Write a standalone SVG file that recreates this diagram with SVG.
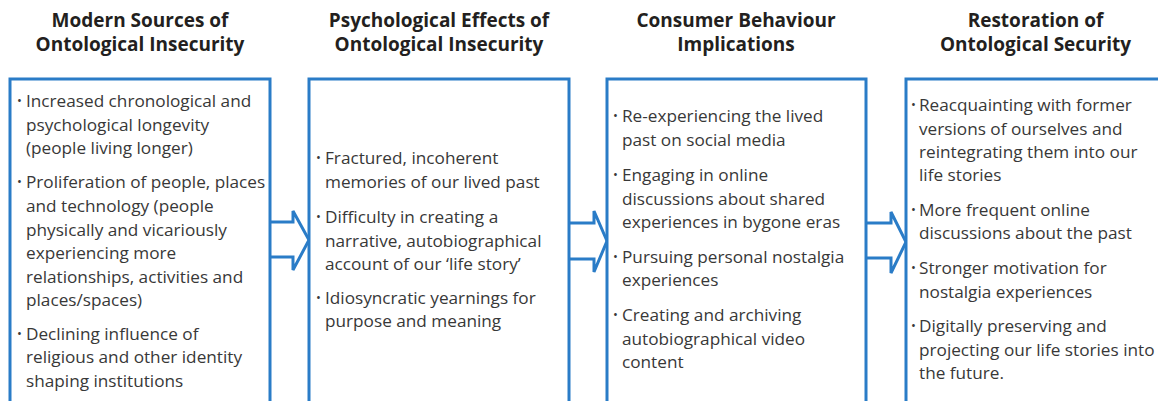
<svg xmlns="http://www.w3.org/2000/svg" width="1158" height="401" viewBox="0 0 1158 401">
  <style>
    .bg { fill: #ffffff; }
    .box { fill: #ffffff; stroke: #2a7cc7; stroke-width: 3; }
    .arrow { fill: #ffffff; stroke: #2a7cc7; stroke-width: 3; stroke-linejoin: miter; }
    .head { font-family: "Open Sans", "Noto Sans", sans-serif; font-weight: 700; font-size: 19px; fill: #231f20; text-anchor: middle; }
    .item { font-family: "Open Sans", "Noto Sans", sans-serif; font-size: 17.2px; fill: #383838; }
    .dot { font-family: "Open Sans", "Noto Sans", sans-serif; font-size: 13px; fill: #383838; }
  </style>
  <rect class="bg" x="0" y="0" width="1158" height="401"/>

  <!-- block arrows between the columns -->
  <g id="connectors">
    <path class="arrow" d="M270,222 H293 V211 L309,240 L293,270 V257 H270"/>
    <path class="arrow" d="M569,223 H594 V211 L607,241 L594,272 V259 H569"/>
    <path class="arrow" d="M866,223 H891 V212 L906,242 L891,273 V258 H866"/>
  </g>

  <!-- column 1 -->
  <g id="sources">
    <text class="head" x="140" y="27">Modern Sources of</text>
    <text class="head" x="140" y="51">Ontological Insecurity</text>
    <rect class="box" x="10" y="79" width="260" height="360"/>
    <text class="dot" x="17" y="105">•</text>
    <text class="item" x="26" y="107">Increased chronological and</text>
    <text class="item" x="26" y="130.5">psychological longevity</text>
    <text class="item" x="26" y="154">(people living longer)</text>
    <text class="dot" x="17" y="186">•</text>
    <text class="item" x="26" y="188">Proliferation of people, places</text>
    <text class="item" x="26" y="212">and technology (people</text>
    <text class="item" x="26" y="236">physically and vicariously</text>
    <text class="item" x="26" y="259">experiencing more</text>
    <text class="item" x="26" y="283">relationships, activities and</text>
    <text class="item" x="26" y="306">places/spaces)</text>
    <text class="dot" x="17" y="338">•</text>
    <text class="item" x="26" y="340">Declining influence of</text>
    <text class="item" x="26" y="363">religious and other identity</text>
    <text class="item" x="26" y="387">shaping institutions</text>
  </g>

  <!-- column 2 -->
  <g id="effects">
    <text class="head" x="439" y="27">Psychological Effects of</text>
    <text class="head" x="439" y="51">Ontological Insecurity</text>
    <rect class="box" x="309" y="79" width="260" height="360"/>
    <text class="dot" x="316" y="162">•</text>
    <text class="item" x="325" y="164">Fractured, incoherent</text>
    <text class="item" x="325" y="188">memories of our lived past</text>
    <text class="dot" x="316" y="221">•</text>
    <text class="item" x="325" y="223">Difficulty in creating a</text>
    <text class="item" x="325" y="246.5">narrative, autobiographical</text>
    <text class="item" x="325" y="270">account of our ‘life story’</text>
    <text class="dot" x="316" y="302">•</text>
    <text class="item" x="325" y="304">Idiosyncratic yearnings for</text>
    <text class="item" x="325" y="327">purpose and meaning</text>
  </g>

  <!-- column 3 -->
  <g id="implications">
    <text class="head" x="736" y="27">Consumer Behaviour</text>
    <text class="head" x="736" y="51">Implications</text>
    <rect class="box" x="607" y="79" width="259" height="360"/>
    <text class="dot" x="613" y="120">•</text>
    <text class="item" x="622" y="122">Re-experiencing the lived</text>
    <text class="item" x="622" y="146">past on social media</text>
    <text class="dot" x="613" y="179">•</text>
    <text class="item" x="622" y="181">Engaging in online</text>
    <text class="item" x="622" y="204.5">discussions about shared</text>
    <text class="item" x="622" y="228">experiences in bygone eras</text>
    <text class="dot" x="613" y="261">•</text>
    <text class="item" x="622" y="263">Pursuing personal nostalgia</text>
    <text class="item" x="622" y="286">experiences</text>
    <text class="dot" x="613" y="319">•</text>
    <text class="item" x="622" y="321">Creating and archiving</text>
    <text class="item" x="622" y="344.5">autobiographical video</text>
    <text class="item" x="622" y="368">content</text>
  </g>

  <!-- column 4 -->
  <g id="restoration">
    <text class="head" x="1035.5" y="27">Restoration of</text>
    <text class="head" x="1035.5" y="51">Ontological Security</text>
    <rect class="box" x="906" y="79" width="259" height="360"/>
    <text class="dot" x="911" y="109">•</text>
    <text class="item" x="919" y="111">Reacquainting with former</text>
    <text class="item" x="919" y="134.5">versions of ourselves and</text>
    <text class="item" x="919" y="158">reintegrating them into our</text>
    <text class="item" x="919" y="181">life stories</text>
    <text class="dot" x="911" y="214">•</text>
    <text class="item" x="919" y="216">More frequent online</text>
    <text class="item" x="919" y="239">discussions about the past</text>
    <text class="dot" x="911" y="272">•</text>
    <text class="item" x="919" y="274">Stronger motivation for</text>
    <text class="item" x="919" y="297.5">nostalgia experiences</text>
    <text class="dot" x="911" y="330">•</text>
    <text class="item" x="919" y="332">Digitally preserving and</text>
    <text class="item" x="919" y="355.5">projecting our life stories into</text>
    <text class="item" x="919" y="379">the future.</text>
  </g>
</svg>
